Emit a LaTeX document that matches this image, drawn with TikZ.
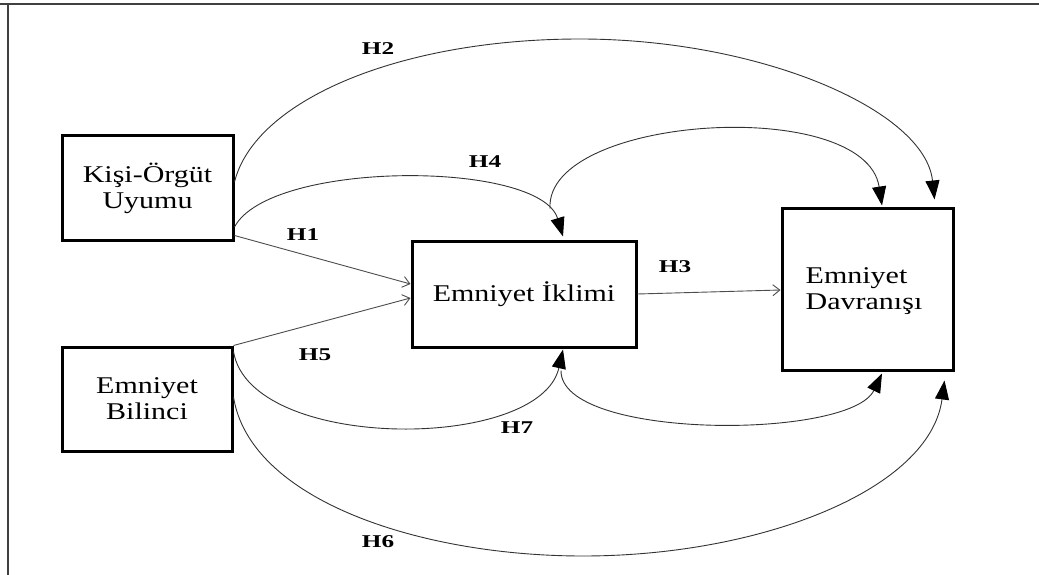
\documentclass[tikz,border=0pt]{standalone}
\usepackage{fontspec}
\setmainfont{Liberation Serif}
\usepackage{graphicx}
\usetikzlibrary{arrows.meta,calc}
% horizontally widened text
\newcommand\widetxt[2][1.25]{\scalebox{#1}[1]{#2}}

\begin{document}
\begin{tikzpicture}[x=1pt,y=-1pt,
  box/.style={draw=black, line width=3pt, align=center, inner sep=2pt,
    font=\fontsize{24}{26}\selectfont},
  boxtext/.style={align=left, inner sep=0pt, font=\fontsize{24}{26}\selectfont},
  hyp/.style={inner sep=1pt, font=\fontsize{18}{20}\selectfont\bfseries},
  curve/.style={draw=black!80, line width=0.9pt, -{Triangle[length=19pt,width=14pt,black]}},
  straight/.style={draw=black!70, line width=0.9pt, -{Straight Barb[length=7pt,width=11pt]}},
  frame/.style={draw=black!75, line width=2pt}
]
\useasboundingbox (0,0) rectangle (1039,575);

% frame
\draw[frame] (0,4.5) -- (1039,4.5);
\draw[frame] (7.5,4.5) -- (7.5,575);

% constructs
\node[box, minimum width=171pt, minimum height=104pt] (k) at (147.5,188)
  {\widetxt{Kişi-Örgüt}\\\widetxt{Uyumu}};
\node[box, minimum width=170pt, minimum height=104pt] (b) at (147,399)
  {\widetxt{Emniyet}\\\widetxt{Bilinci}};
\node[box, minimum width=224pt, minimum height=106pt] (i) at (524,294)
  {\widetxt{Emniyet İklimi}};
\node[box, minimum width=171pt, minimum height=162pt] (d) at (867.5,289) {};
\node[boxtext, anchor=west] (dt) at ([xshift=25pt,yshift=-2pt]d.west)
  {\widetxt{Emniyet}\\\widetxt{Davranışı}};

% end points of the paths between İklimi and Davranışı
\coordinate (itop) at ([xshift=26pt,yshift=31pt]i.north);
\coordinate (ibot) at ([xshift=37pt,yshift=-22pt]i.south);

% straight paths
\draw[straight] ([yshift=6pt]k.south east) -- ([yshift=10pt]i.west);
\draw[straight] (b.north east) -- ([yshift=-4pt]i.west);
\draw[straight] (i.east) -- ([yshift=-1pt]d.west);

% curved paths
\draw[curve] ([yshift=6pt]k.east) .. controls (255,100) and (400,39) .. (580,39)
  .. controls (760,39) and (925,110) .. ([xshift=-20pt,yshift=7pt]d.north east);
\draw[curve] ([yshift=-39pt]k.east) .. controls (270,160) and (540,160)
  .. ([xshift=39pt,yshift=3pt]i.north);
\draw[curve] (itop) .. controls (545,115) and (865,95)
  .. ([xshift=14.5pt,yshift=1pt]d.north);
\draw[curve] (ibot) .. controls (560,440) and (850,440)
  .. ([xshift=14.5pt,yshift=-2pt]d.south);
\draw[curve] ([yshift=-6pt]b.north east) .. controls (250,452) and (540,452)
  .. ([xshift=39pt,yshift=-1pt]i.south);
\draw[curve] ([yshift=2pt]b.east) .. controls (250,500) and (420,556) .. (583,556)
  .. controls (760,556) and (930,490) .. ([xshift=-10pt,yshift=-9pt]d.south east);

% hypothesis labels
\node[hyp] (h1) at (303,235) {\widetxt[1.4]{H1}};
\node[hyp] (h2) at (378,49)  {\widetxt[1.4]{H2}};
\node[hyp] (h3) at (675,267) {\widetxt[1.4]{H3}};
\node[hyp] (h4) at (485,162) {\widetxt[1.4]{H4}};
\node[hyp] (h5) at (315,355) {\widetxt[1.4]{H5}};
\node[hyp] (h6) at (378,542) {\widetxt[1.4]{H6}};
\node[hyp] (h7) at (517,428) {\widetxt[1.4]{H7}};
\end{tikzpicture}
\end{document}
